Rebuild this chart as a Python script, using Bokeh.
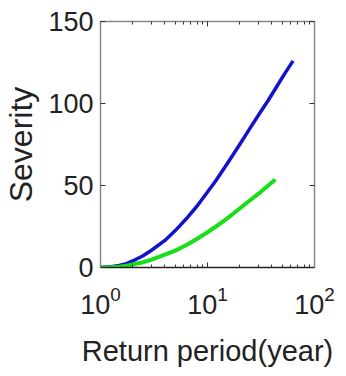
from bokeh.plotting import figure
from bokeh.models import LogAxis, LinearAxis, Range1d, FixedTicker, LogTicker, CustomJSTickFormatter
from bokeh.embed import file_html
from bokeh.resources import INLINE

# Data
t_blue = [1, 1.25, 1.5, 1.75, 2, 2.5, 3, 4, 5, 6.5, 8, 10, 12, 15, 20, 25, 30, 37, 45, 53, 63]
s_blue = [0, 0.4, 1.2, 2.4, 4, 7.2, 10.5, 16.5, 22.5, 30.5, 37.5, 46, 53, 62.5, 75, 85, 93, 102, 111, 118.5, 126]
t_green = [1, 1.25, 1.5, 1.75, 2, 2.5, 3, 4, 5, 6.5, 8, 10, 12, 15, 20, 25, 30, 37, 43]
s_green = [0, 0.15, 0.5, 1.1, 1.8, 3.2, 4.8, 7.8, 10.3, 14, 17.5, 21.5, 25, 29.5, 36, 41, 45, 50, 53.7]
y_ticks = [0, 50, 100, 150]

FONT = "Liberation Sans"

p = figure(frame_width=214, frame_height=246, x_axis_type="log",
           x_range=Range1d(1, 100), y_range=Range1d(0, 150),
           output_backend="svg", toolbar_location=None,
           min_border_left=99, min_border_right=22,
           min_border_top=21, min_border_bottom=100)
p.background_fill_color = "white"
p.border_fill_color = "white"
p.outline_line_color = None
p.grid.visible = False

p.line(t_blue, s_blue, line_color="#1212cc", line_width=3.5, line_join="round")
p.line(t_green, s_green, line_color="#18e018", line_width=4, line_join="round")

def style(ax, color="#888888"):
    ax.axis_line_color = color
    ax.axis_line_width = 1.5
    ax.major_tick_in = 5
    ax.major_tick_out = 0
    ax.minor_tick_in = 3
    ax.minor_tick_out = 0
    ax.major_tick_line_color = "#333333"
    ax.minor_tick_line_color = "#333333"
    ax.major_label_text_font = FONT
    ax.major_label_text_font_size = "27px"
    ax.major_label_text_color = "#222222"
    ax.axis_label_text_font = FONT
    ax.axis_label_text_font_style = "normal"
    ax.axis_label_text_color = "#222222"

xa = p.xaxis[0]
style(xa, color="#222222")
xa.ticker = LogTicker(desired_num_ticks=3, num_minor_ticks=10)
xa.major_label_standoff = 18
xa.axis_label = "Return period(year)"
xa.axis_label_text_font_size = "29px"
xa.axis_label_standoff = 18

ya = p.yaxis[0]
style(ya)
ya.ticker = FixedTicker(ticks=y_ticks)
ya.minor_tick_line_color = None
ya.major_label_standoff = 7
ya.axis_label = "Severity"
ya.axis_label_text_font_size = "32px"
ya.axis_label_standoff = 6

empty = CustomJSTickFormatter(code="return ''")

top = LogAxis(ticker=LogTicker(desired_num_ticks=3, num_minor_ticks=10), formatter=empty)
style(top)
top.major_label_standoff = 0
p.add_layout(top, "above")

right = LinearAxis(ticker=FixedTicker(ticks=y_ticks), formatter=empty)
style(right)
right.minor_tick_line_color = None
right.major_label_standoff = 0
p.add_layout(right, "right")

open("out.html", "w").write(file_html(p, INLINE))
